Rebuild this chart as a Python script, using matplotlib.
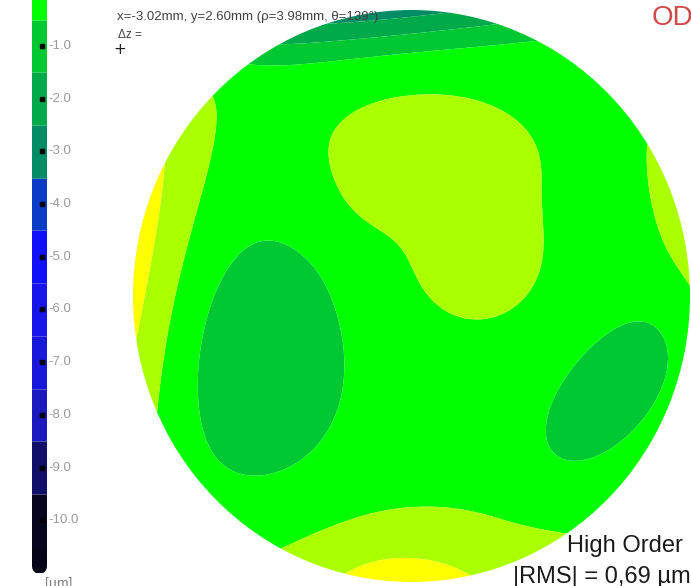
import numpy as np
import matplotlib
matplotlib.use("Agg")
import matplotlib.pyplot as plt
from matplotlib.patches import Ellipse

W, H = 691, 586

# micron bands of the wavefront scale (band centre -> colour)
band_values = [-11, -10, -9, -8, -7, -6, -5, -4, -3, -2, -1, 0, 1, 2, 3]
band_colors = ["#05051a", "#06061e", "#10106a", "#1a1abe", "#1818dc", "#1616ea",
               "#1010fa", "#0a3cc8", "#008c64", "#00aa4a", "#00c832", "#00ff00",
               "#aaff00", "#ffff00", "#ffc800"]
tick_values = [-1.0, -2.0, -3.0, -4.0, -5.0, -6.0, -7.0, -8.0, -9.0, -10.0]

# high order surface features, pupil coordinates (radius 1)
feat_u = [-0.04, 0.050, 0.230, -0.129, -1.137, 1.147, 0.068, -0.058, -0.558, 0.705]
feat_v = [1.035, 0.510, 0.143, 0.336, 0.080, 0.300, -1.098, -1.098, -0.231, -0.339]
feat_amp = [-3.0, 1.1, 1.0, 0.35, 2.6, 2.0, 1.35, 1.0, -1.25, -1.2]
feat_su = [1.08, 0.288, 0.198, 0.120, 0.212, 0.162, 0.612, 0.216, 0.237, 0.240]
feat_sv = [0.105, 0.157, 0.192, 0.100, 0.850, 0.315, 0.245, 0.157, 0.343, 0.120]
feat_ang = [5.7, 0.0, 0.0, 0.0, -9.0, 16.0, 0.0, 0.0, 0.0, 51.0]


def surface(u, v):
    z = np.zeros_like(u)
    for cu, cv, a, su, sv, ang in zip(feat_u, feat_v, feat_amp, feat_su, feat_sv, feat_ang):
        t = np.deg2rad(ang)
        du, dv = u - cu, v - cv
        p = du * np.cos(t) + dv * np.sin(t)
        q = -du * np.sin(t) + dv * np.cos(t)
        z += a * np.exp(-0.5 * ((p / su) ** 2 + (q / sv) ** 2))
    return z


fig = plt.figure(figsize=(W / 100, H / 100), dpi=100)
fig.patch.set_facecolor("white")


def px(x, y, w, h):
    # pixel box (top-left origin) -> figure fraction
    return [x / W, 1 - (y + h) / H, w / W, h / H]


# --- wavefront map ---
ax = fig.add_axes(px(133, 10, 557, 572))
g = np.linspace(-1, 1, 600)
U, V = np.meshgrid(g, g)
Z = surface(U, V)
edges = [b - 0.5 for b in band_values] + [band_values[-1] + 0.5]
cs = ax.contourf(U, V, Z, levels=edges, colors=band_colors, antialiased=True)
pupil = Ellipse((0, 0), 2, 2, transform=ax.transData)
cs.set_clip_path(pupil)
ax.set_xlim(-1, 1)
ax.set_ylim(-1, 1)
ax.axis("off")

# --- scale bar on the left ---
cax = fig.add_axes(px(0, 0, 120, 573))
cax.set_xlim(0, 120)
cax.set_ylim(-11, -0.13)
cax.axis("off")
for val, col in zip(band_values, band_colors):
    if val > 0:
        continue
    lo, hi = val - 0.5, min(val + 0.5, 0.5)
    cap = "butt"
    if val == -11:
        lo, cap = -10.86, "round"
    cax.plot([38.5, 38.5], [lo, hi], color=col, lw=10.8, solid_capstyle=cap)
cax.plot([41.5] * len(tick_values), tick_values, ls="none", marker="s", ms=2.4, color="black")
for t in tick_values:
    cax.text(48, t, f"{t:.1f}", fontsize=9.5, color="#9a9a9a", va="center", ha="left",
             family="Liberation Sans")
cax.text(45, -11.08, "[µm]", fontsize=10, color="#808080", va="top", ha="left",
         family="Liberation Sans", clip_on=False)

# --- annotations ---
fig.text(117 / W, 1 - 17 / H, "x=-3.02mm, y=2.60mm (ρ=3.98mm, θ=139°)", fontsize=9.5,
         color="#404040", va="center", ha="left", family="Liberation Sans")
fig.text(118 / W, 1 - 35 / H, "Δz =", fontsize=8.5, color="#404040", va="center",
         ha="left", family="Liberation Sans")
fig.text(120 / W, 1 - 49 / H, "+", fontsize=11, color="#202020", va="center",
         ha="center", family="DejaVu Sans")
fig.text(652 / W, 1 - 18 / H, "OD", fontsize=20, color="#d04848", va="center",
         ha="left", family="Liberation Sans")
fig.text(567 / W, 1 - 546 / H, "High Order", fontsize=17, color="#1a1a1a",
         va="center", ha="left", family="Liberation Sans")
fig.text(513 / W, 1 - 577 / H, "|RMS| = 0,69 µm", fontsize=17, color="#1a1a1a",
         va="center", ha="left", family="Liberation Sans")

fig.savefig("out.png", dpi=100)
